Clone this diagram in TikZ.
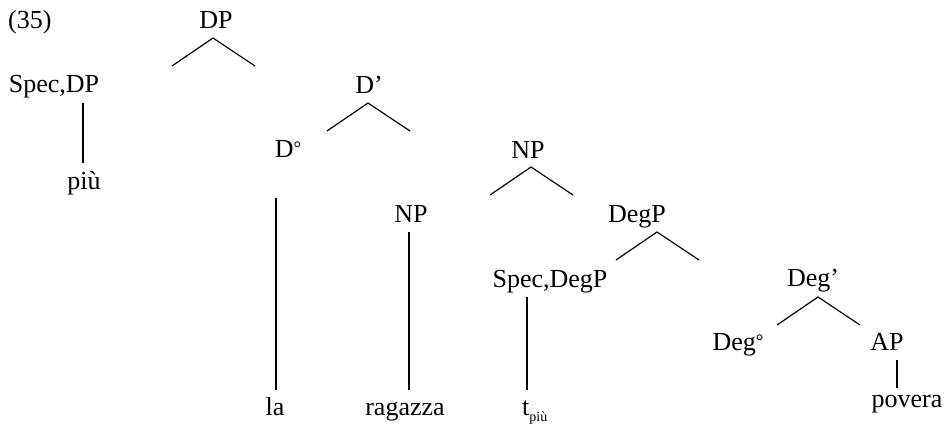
\documentclass[tikz,border=0pt]{standalone}
\usepackage{fontspec}
\setmainfont{Liberation Serif}
\usetikzlibrary{positioning}
\tikzset{lbl/.style = {anchor = base, inner sep = 0, font = \fontsize{26}{30}\selectfont}}
\tikzset{edge/.style = {line width = 1.2pt}}
\newcommand{\trsub}[1]{\raisebox{-6pt}{\fontsize{14}{16}\selectfont #1}}
\newcommand{\zerobar}{\raisebox{2.5pt}{\fontsize{19}{20}\selectfont °}}

\begin{document}
\begin{tikzpicture}[x=1pt, y=-1pt]
      \useasboundingbox (0, 0) rectangle (947, 429);
      \node [lbl, anchor = base west] (ex) at (8, 28) {(35)};

      \node [lbl] (dp) at (216, 28) {DP};
      \node [lbl] (specdp) at (54, 92) {Spec,DP};
      \node [lbl] (dbar) at (369, 93) {D’};
      \node [lbl] (piu) at (84, 189) {più};
      \node [lbl] (d0) at (288, 157) {D\zerobar};
      \node [lbl] (np1) at (528, 158) {NP};
      \node [lbl] (np2) at (411, 222) {NP};
      \node [lbl] (degp) at (637, 222) {DegP};
      \node [lbl] (specdegp) at (550, 287) {Spec,DegP};
      \node [lbl] (degbar) at (813, 286) {Deg’};
      \node [lbl] (deg0) at (738, 350) {Deg\zerobar};
      \node [lbl] (ap) at (887, 350) {AP};
      \node [lbl] (la) at (275, 415) {la};
      \node [lbl] (ragazza) at (405, 415) {ragazza};
      \node [lbl, anchor = base west] (trace) at (522, 415) {t\trsub{più}};
      \node [lbl] (povera) at (907, 407) {povera};

      % branching stubs
      \foreach \n/\x/\y in {dp/213/38, dbar/368/103, np1/531/167,
                            degp/657/232, degbar/818/297} {
        \coordinate (\n-a) at (\x, \y);
        \coordinate (\n-l) at (\x-41, \y+28);
        \coordinate (\n-r) at (\x+42, \y+28);
        \draw [edge] (\n-l) -- (\n-a) -- (\n-r);
      }

      % unary lines
      \foreach \n/\x/\ya/\yb in {specdp/83/103/163, d0/276/198/390,
                                 np2/409/232/390, specdegp/527/297/390,
                                 ap/897/360/388} {
        \coordinate (\n-t) at (\x, \ya);
        \coordinate (\n-b) at (\x, \yb);
        \draw [edge] (\n-t) -- (\n-b);
      }
    \end{tikzpicture}
\end{document}
